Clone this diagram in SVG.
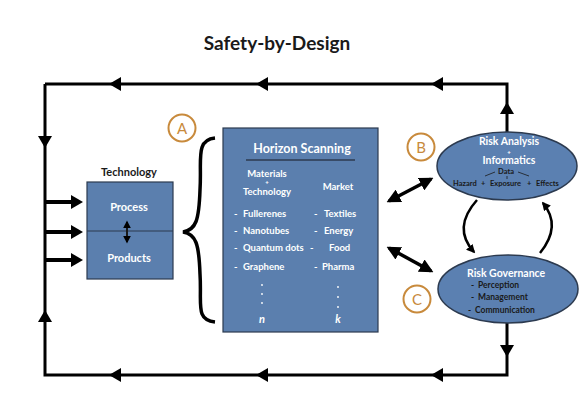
<svg xmlns="http://www.w3.org/2000/svg" width="585" height="401" viewBox="0 0 585 401">
<style>
text{font-family:"Lato","Liberation Sans",sans-serif;font-weight:bold;}
.t{fill:#1a1a1a;}
.w{fill:#ffffff;}
.lab{fill:#ffffff;font-size:9.5px;}
.box{fill:#5b7fae;stroke:#2c3a4f;stroke-width:1.2;}
.ell{fill:#5b80b1;stroke:#2c3a4f;stroke-width:1.5;}
.loop{fill:none;stroke:#000;stroke-width:3;}
.thick{fill:none;stroke:#000;stroke-width:4;}
.badge{fill:none;stroke:#c88a3c;stroke-width:2;}
.bt{fill:#c88a3c;font-size:15px;text-anchor:middle;font-weight:normal;}
</style>
<defs>
<path id="tri" d="M0,0 L-12,-7 L-12,7 Z" fill="#000"/>
<marker id="ah" viewBox="0 0 10 10" refX="8" refY="5" markerWidth="4" markerHeight="4" orient="auto-start-reverse" markerUnits="strokeWidth">
<path d="M0,0 L10,5 L0,10 Z" fill="#000"/>
</marker>
<marker id="ah2" viewBox="0 0 10 10" refX="8" refY="5" markerWidth="3.5" markerHeight="3.5" orient="auto" markerUnits="strokeWidth">
<path d="M0,0 L10,5 L0,10 Z" fill="#000"/>
</marker>
</defs>

<text x="277" y="50" class="t" font-size="19" text-anchor="middle">Safety-by-Design</text>

<g id="connectors">
<path class="loop" d="M45,84 H507 V133"/>
<path class="loop" d="M507,323 V375 H45 V84"/>
<use href="#tri" transform="translate(109,84) rotate(180)"/>
<use href="#tri" transform="translate(256,84) rotate(180)"/>
<use href="#tri" transform="translate(431,84) rotate(180)"/>
<use href="#tri" transform="translate(109,375) rotate(180)"/>
<use href="#tri" transform="translate(256,375) rotate(180)"/>
<use href="#tri" transform="translate(431,375) rotate(180)"/>
<use href="#tri" transform="translate(45,148) rotate(90)"/>
<use href="#tri" transform="translate(45,310) rotate(-90)"/>
<use href="#tri" transform="translate(507,102) rotate(-90)"/>
<use href="#tri" transform="translate(507,357) rotate(90)"/>
<path class="thick" d="M45,202 H72 M45,232 H72 M45,260 H72"/>
<use href="#tri" transform="translate(83,202)"/>
<use href="#tri" transform="translate(83,232)"/>
<use href="#tri" transform="translate(83,260)"/>
<line x1="389" y1="201" x2="431" y2="179" stroke="#000" stroke-width="3.5" marker-start="url(#ah)" marker-end="url(#ah)"/>
<line x1="389" y1="248" x2="431" y2="271" stroke="#000" stroke-width="3.5" marker-start="url(#ah)" marker-end="url(#ah)"/>
<path d="M477,200 Q452,228 474,252" fill="none" stroke="#000" stroke-width="2.5" marker-end="url(#ah2)"/>
<path d="M540,253 Q562,226 543,203" fill="none" stroke="#000" stroke-width="2.5" marker-end="url(#ah2)"/>
<path d="M215,138 C195,140 202,160 200,190 C199,220 196,230 183,232 C196,234 199,244 200,274 C202,304 195,320 215,322" fill="none" stroke="#000" stroke-width="3.5"/>
</g>

<g id="badgeA"><circle cx="182" cy="128" r="13.5" class="badge"/><text x="182" y="134" class="bt">A</text></g>
<g id="badgeB"><circle cx="421" cy="147" r="13.5" class="badge"/><text x="421" y="153" class="bt">B</text></g>
<g id="badgeC"><circle cx="417" cy="299" r="13.5" class="badge"/><text x="417" y="305" class="bt">C</text></g>

<g id="technology">
<text x="129" y="176" class="t" font-size="11" text-anchor="middle">Technology</text>
<rect x="87" y="182" width="86" height="97" class="box"/>
<line x1="87" y1="231" x2="173" y2="231" stroke="#2c3a4f" stroke-width="1.2"/>
<text x="129" y="211" class="w" font-size="11" text-anchor="middle">Process</text>
<text x="129" y="262" class="w" font-size="11" text-anchor="middle">Products</text>
<line x1="127" y1="222" x2="127" y2="242" stroke="#1a1a1a" stroke-width="2" marker-start="url(#ah)" marker-end="url(#ah)"/>
</g>

<g id="horizon">
<rect x="223" y="128" width="155" height="204" class="box"/>
<text x="302" y="153" class="w" font-size="12.5" text-anchor="middle">Horizon Scanning</text>
<line x1="246" y1="160" x2="355" y2="160" stroke="#2c3a4f" stroke-width="1.5"/>
<text x="267" y="177" class="w" font-size="9.5" text-anchor="middle">Materials</text>
<text x="267" y="184" class="w" font-size="6" text-anchor="middle">+</text>
<text x="267" y="195" class="w" font-size="9.5" text-anchor="middle">Technology</text>
<text x="338" y="190" class="w" font-size="9.5" text-anchor="middle">Market</text>
<g class="lab">
<text x="234" y="217">-</text><text x="243" y="217">Fullerenes</text>
<text x="234" y="234">-</text><text x="243" y="234">Nanotubes</text>
<text x="234" y="251">-</text><text x="243" y="251">Quantum dots</text>
<text x="234" y="270">-</text><text x="243" y="270">Graphene</text>
<text x="314" y="217">-</text><text x="324" y="217">Textiles</text>
<text x="314" y="234">-</text><text x="324" y="234">Energy</text>
<text x="310" y="251">-</text><text x="329" y="251">Food</text>
<text x="314" y="270">-</text><text x="322" y="270">Pharma</text>
</g>
<g fill="#ffffff">
<circle cx="262" cy="285" r="0.9"/><circle cx="262" cy="294" r="0.9"/><circle cx="262" cy="303" r="0.9"/>
<circle cx="338" cy="287" r="0.9"/><circle cx="338" cy="297" r="0.9"/><circle cx="338" cy="307" r="0.9"/>
</g>
<text x="262" y="323" class="w" font-size="11" font-style="italic" text-anchor="middle">n</text>
<text x="338" y="323" class="w" font-size="11" font-style="italic" text-anchor="middle">k</text>
</g>

<g id="riskAnalysis">
<ellipse cx="507" cy="166" rx="70" ry="34" class="ell"/>
<text x="509" y="145" class="w" font-size="10.5" text-anchor="middle">Risk Analysis</text>
<text x="509" y="154" class="w" font-size="6" text-anchor="middle">+</text>
<text x="509" y="164" class="w" font-size="10.5" text-anchor="middle">Informatics</text>
<text x="506" y="174" fill="#1a1a1a" font-size="7.5" text-anchor="middle">Data</text>
<path d="M485,176 L495,172 M507,176 V179 M518,172 L529,176" stroke="#1a1a1a" stroke-width="0.8" fill="none"/>
<text x="453" y="186" fill="#1a1a1a" font-size="7.5">Hazard</text>
<text x="481" y="186" fill="#1a1a1a" font-size="7.5">+</text>
<text x="490" y="186" fill="#1a1a1a" font-size="7.5">Exposure</text>
<text x="527" y="186" fill="#1a1a1a" font-size="7.5">+</text>
<text x="536" y="186" fill="#1a1a1a" font-size="7.5">Effects</text>
</g>

<g id="riskGovernance">
<ellipse cx="508" cy="289" rx="70" ry="34" class="ell"/>
<text x="467" y="277" class="w" font-size="10.5">Risk Governance</text>
<g fill="#1a1a1a" font-size="8.5">
<text x="471" y="288">-</text><text x="478" y="288">Perception</text>
<text x="471" y="300">-</text><text x="478" y="300">Management</text>
<text x="468" y="313">-</text><text x="475" y="313">Communication</text>
</g>
</g>
</svg>
